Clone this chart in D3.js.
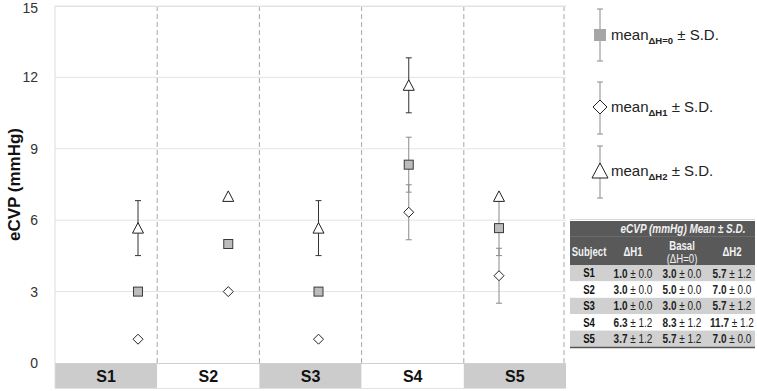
<!DOCTYPE html>
<html>
<head>
<meta charset="utf-8">
<script src="https://cdn.jsdelivr.net/npm/d3@7"></script>
<style>
    body { margin: 0; background: #fff; }
    svg { font-family: "Liberation Sans", Arial, sans-serif; }
</style>
</head>
<body>
<div id="chart"></div>
<script>

// data
const subjects = ["S1", "S2", "S3", "S4", "S5"];
const meanH1 = [1.0, 3.0, 1.0, 6.333, 3.667];
const sdH1 = [0, 0, 0, 1.1547, 1.1547];
const meanBasal = [3.0, 5.0, 3.0, 8.333, 5.667];
const sdBasal = [0, 0, 0, 1.1547, 1.1547];
const meanH2 = [5.667, 7.0, 5.667, 11.667, 7.0];
const sdH2 = [1.1547, 0, 1.1547, 1.1547, 0];
const yTicks = [0, 3, 6, 9, 12, 15];

class EcvpChart {
    constructor(_parentElement) {
        this.parentElement = _parentElement;
        this.initVis();
    }

    initVis() {
        let vis = this;

        vis.svg = d3.select("#" + vis.parentElement).append("svg")
            .attr("width", 757)
            .attr("height", 391);

        vis.left = 55;
        vis.right = 566;
        vis.top = 6;
        vis.bottom = 363;

        vis.y = d3.scaleLinear().domain([0, 15]).range([vis.bottom, vis.top]);
        vis.band = d3.scaleBand().domain(subjects).range([vis.left, vis.right]);
        // markers sit on their own x axis, not the band centres
        vis.x = d3.scaleLinear().domain([1, 5]).range([138, 499]);

        vis.drawGrid();
        vis.drawMarks();
        vis.drawLegend();
        vis.drawTable();
    }

    drawGrid() {
        let vis = this;

        vis.svg.append("g").selectAll("line")
            .data(yTicks.filter(d => d > 0))
            .join("line")
            .attr("x1", vis.left).attr("x2", vis.right)
            .attr("y1", d => vis.y(d)).attr("y2", d => vis.y(d))
            .attr("stroke", "#e3e3e3");

        vis.svg.append("g").selectAll("text")
            .data(yTicks)
            .join("text")
            .attr("x", 38)
            .attr("y", d => Math.max(vis.y(d), 8))
            .attr("dy", "0.35em")
            .attr("text-anchor", "end")
            .attr("font-size", 14)
            .attr("fill", "#333")
            .text(d => d);

        vis.svg.append("text")
            .attr("transform", `translate(20, ${vis.y(7.5)}) rotate(-90)`)
            .attr("text-anchor", "middle")
            .attr("font-size", 17)
            .attr("font-weight", "bold")
            .attr("fill", "#111")
            .text("eCVP (mmHg)");

        // category strip under the plot
        let strip = vis.svg.append("g").selectAll("g")
            .data(subjects)
            .join("g");
        strip.append("rect")
            .attr("x", d => vis.band(d))
            .attr("y", vis.bottom)
            .attr("width", vis.band.bandwidth())
            .attr("height", 25)
            .attr("fill", (d, i) => i % 2 == 0 ? "#cccccc" : "#fff");
        strip.append("text")
            .attr("x", d => vis.band(d) + vis.band.bandwidth() / 2)
            .attr("y", vis.bottom + 13)
            .attr("dy", "0.35em")
            .attr("text-anchor", "middle")
            .attr("font-size", 16)
            .attr("font-weight", "bold")
            .attr("fill", "#111")
            .text(d => d);

        vis.svg.append("line")
            .attr("x1", vis.left).attr("x2", vis.right)
            .attr("y1", 388.5).attr("y2", 388.5)
            .attr("stroke", "#e3e3e3");

        vis.svg.append("g").selectAll("line")
            .data(subjects.slice(1).concat(["end"]))
            .join("line")
            .attr("x1", d => d == "end" ? vis.right - 2 : vis.band(d))
            .attr("x2", d => d == "end" ? vis.right - 2 : vis.band(d))
            .attr("y1", vis.top).attr("y2", vis.bottom)
            .attr("stroke", "#a8a8a8")
            .attr("stroke-dasharray", "5,3");

        // plot frame
        vis.svg.append("line")
            .attr("x1", vis.left).attr("x2", vis.right)
            .attr("y1", vis.top + 0.5).attr("y2", vis.top + 0.5)
            .attr("stroke", "#e3e3e3");
        vis.svg.append("line")
            .attr("x1", vis.left).attr("x2", vis.left)
            .attr("y1", vis.top).attr("y2", vis.bottom + 25)
            .attr("stroke", "#dcdcdc");
        vis.svg.append("line")
            .attr("x1", vis.left).attr("x2", vis.right)
            .attr("y1", vis.bottom + 0.5).attr("y2", vis.bottom + 0.5)
            .attr("stroke", "#d0d0d0");
    }

    errorBar(g, x, m, s, color) {
        let vis = this;
        if (s == 0) return;
        g.append("line")
            .attr("x1", x).attr("x2", x)
            .attr("y1", vis.y(m - s)).attr("y2", vis.y(m + s))
            .attr("stroke", color);
        [m - s, m + s].forEach(v => {
            g.append("line")
                .attr("x1", x - 3).attr("x2", x + 3)
                .attr("y1", vis.y(v)).attr("y2", vis.y(v))
                .attr("stroke", color);
        });
    }

    drawMarks() {
        let vis = this;
        let g = vis.svg.append("g");

        subjects.forEach((s, i) => {
            let x = vis.x(i + 1);
            vis.errorBar(g, x, meanH1[i], sdH1[i], "#8a8a8a");
            vis.errorBar(g, x, meanBasal[i], sdBasal[i], "#8a8a8a");
            vis.errorBar(g, x, meanH2[i], sdH2[i], "#333");
        });

        let pts = g.selectAll(".pt")
            .data(subjects)
            .join("g")
            .attr("class", "pt");

        pts.append("path")
            .attr("transform", (d, i) => `translate(${vis.x(i + 1)},${vis.y(meanH1[i])})`)
            .attr("d", "M0,-5L5,0L0,5L-5,0Z")
            .attr("fill", "#fff")
            .attr("stroke", "#222");

        pts.append("rect")
            .attr("x", (d, i) => vis.x(i + 1) - 4.5)
            .attr("y", (d, i) => vis.y(meanBasal[i]) - 4.5)
            .attr("width", 9).attr("height", 9)
            .attr("fill", "#bcbcbc")
            .attr("stroke", "#3a3a3a");

        pts.append("path")
            .attr("transform", (d, i) => `translate(${vis.x(i + 1)},${vis.y(meanH2[i])})`)
            .attr("d", "M0,-5.5L5.5,5L-5.5,5Z")
            .attr("fill", "#fff")
            .attr("stroke", "#222");
    }

    drawLegend() {
        let vis = this;
        let items = [
            {sub: "ΔH=0", cy: 35, top: 9, bot: 61, shape: "square"},
            {sub: "ΔH1", cy: 107, top: 82, bot: 134, shape: "diamond"},
            {sub: "ΔH2", cy: 171, top: 146, bot: 198, shape: "triangle"}
        ];
        let lx = 600;
        let g = vis.svg.append("g");

        items.forEach(it => {
            g.append("line")
                .attr("x1", lx).attr("x2", lx)
                .attr("y1", it.top).attr("y2", it.bot)
                .attr("stroke", "#8a8a8a");
            [it.top, it.bot].forEach(yy => {
                g.append("line")
                    .attr("x1", lx - 3).attr("x2", lx + 3)
                    .attr("y1", yy).attr("y2", yy)
                    .attr("stroke", "#8a8a8a");
            });
            if (it.shape == "square") {
                g.append("rect")
                    .attr("x", lx - 6).attr("y", it.cy - 6)
                    .attr("width", 12).attr("height", 12)
                    .attr("fill", "#a6a6a6");
            } else if (it.shape == "diamond") {
                g.append("path")
                    .attr("transform", `translate(${lx},${it.cy})`)
                    .attr("d", "M0,-7L7,0L0,7L-7,0Z")
                    .attr("fill", "#fff").attr("stroke", "#222");
            } else {
                g.append("path")
                    .attr("transform", `translate(${lx},${it.cy})`)
                    .attr("d", "M0,-8L8,7L-8,7Z")
                    .attr("fill", "#fff").attr("stroke", "#222");
            }
            let t = g.append("text")
                .attr("x", 611)
                .attr("y", it.cy + 5)
                .attr("font-size", 15)
                .attr("fill", "#222");
            t.append("tspan").text("mean");
            t.append("tspan")
                .attr("font-size", 9.5)
                .attr("font-weight", "bold")
                .attr("dy", 4)
                .text(it.sub);
            t.append("tspan")
                .attr("dy", -4)
                .text(" ± S.D.");
        });
    }

    drawTable() {
        let vis = this;
        let g = vis.svg.append("g");
        let tx = 570, tw = 185;
        let cols = [589, 633, 682, 732];
        let sx = 0.8; // table font is condensed

        let place = (x, y) => `translate(${x},${y}) scale(${sx},1)`;

        g.append("line")
            .attr("x1", tx).attr("x2", tx + tw)
            .attr("y1", 219.5).attr("y2", 219.5)
            .attr("stroke", "#d8d8d8");

        g.append("rect")
            .attr("x", tx).attr("y", 221)
            .attr("width", tw).attr("height", 44)
            .attr("fill", "#595959");
        g.append("line")
            .attr("x1", tx).attr("x2", tx + tw)
            .attr("y1", 236.5).attr("y2", 236.5)
            .attr("stroke", "#6a6a6a");

        g.append("text")
            .attr("transform", place(683, 229))
            .attr("dy", "0.35em")
            .attr("text-anchor", "middle")
            .attr("font-size", 12.5)
            .attr("font-weight", "bold")
            .attr("font-style", "italic")
            .attr("fill", "#f2f2f2")
            .text("eCVP (mmHg) Mean  ± S.D.");

        let heads = [["Subject"], ["ΔH1"], ["Basal", "(ΔH=0)"], ["ΔH2"]];
        heads.forEach((h, j) => {
            h.forEach((line, k) => {
                g.append("text")
                    .attr("transform", place(cols[j], h.length == 1 ? 252 : 245.5 + k * 13))
                    .attr("dy", "0.35em")
                    .attr("text-anchor", "middle")
                    .attr("font-size", 12)
                    .attr("font-weight", k == 0 ? "bold" : "normal")
                    .attr("fill", "#f2f2f2")
                    .text(line);
            });
        });

        let rowH = 16.4;
        let rows = g.selectAll(".row")
            .data(subjects)
            .join("g")
            .attr("class", "row")
            .attr("transform", (d, i) => `translate(0, ${265 + i * rowH})`);

        rows.append("rect")
            .attr("x", tx).attr("width", tw)
            .attr("height", rowH)
            .attr("fill", (d, i) => i % 2 == 0 ? "#d0d0d0" : "#fff");

        rows.append("text")
            .attr("transform", place(cols[0], rowH / 2))
            .attr("dy", "0.35em")
            .attr("text-anchor", "middle")
            .attr("font-size", 12)
            .attr("font-weight", "bold")
            .attr("fill", "#111")
            .text(d => d);

        let series = [[meanH1, sdH1], [meanBasal, sdBasal], [meanH2, sdH2]];
        series.forEach((sr, j) => {
            let t = rows.append("text")
                .attr("transform", place(cols[j + 1], rowH / 2))
                .attr("dy", "0.35em")
                .attr("text-anchor", "middle")
                .attr("font-size", 12.5)
                .attr("fill", "#222");
            t.append("tspan")
                .attr("font-weight", "bold")
                .text((d, i) => sr[0][i].toFixed(1));
            t.append("tspan")
                .text((d, i) => " ± " + sr[1][i].toFixed(1));
        });

        g.append("line")
            .attr("x1", tx).attr("x2", tx + tw)
            .attr("y1", 265 + 5 * rowH + 0.5).attr("y2", 265 + 5 * rowH + 0.5)
            .attr("stroke", "#555")
            .attr("stroke-width", 1.5);
    }
}

new EcvpChart("chart");
</script>
</body>
</html>
